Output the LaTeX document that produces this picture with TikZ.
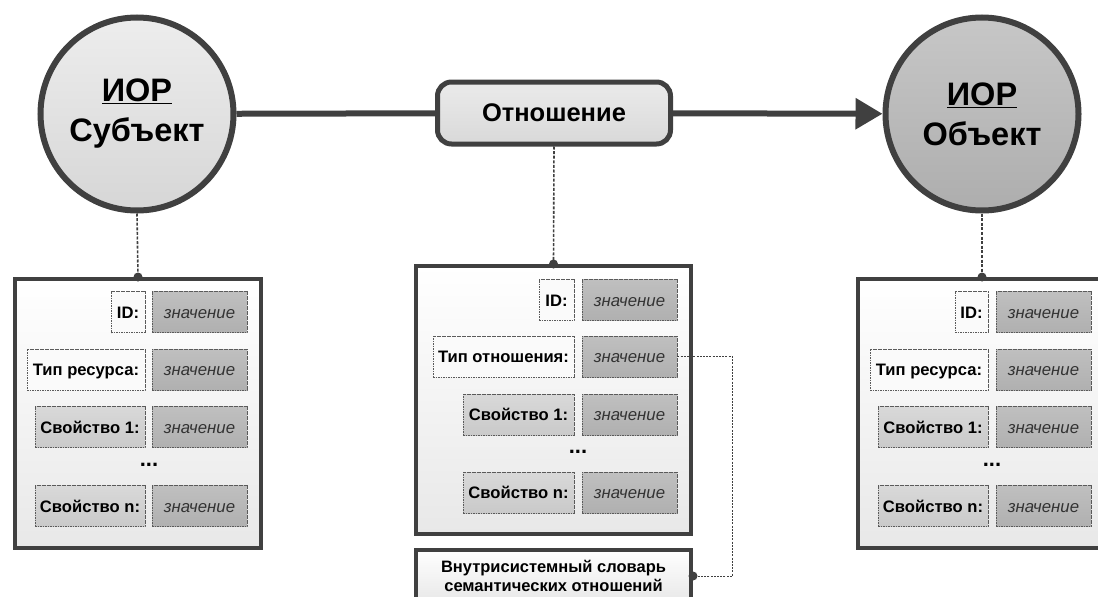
\documentclass[tikz,border=0pt]{standalone}
\usepackage{fontspec}
\setmainfont{Liberation Sans}
\usetikzlibrary{arrows.meta}
\definecolor{ink}{HTML}{404040}
\definecolor{dashc}{HTML}{5A5A5A}
\definecolor{labfill}{HTML}{FAFAFA}
\begin{document}
\begin{tikzpicture}[x=1pt,y=-1pt,
  ior/.style={circle, draw=ink, line width=6pt, minimum size=193pt, inner sep=0pt, align=center,
    font=\fontsize{32.5}{40}\selectfont\bfseries},
  bigbox/.style={rectangle, draw=ink, line width=4pt, top color=white, bottom color=black!9, inner sep=0pt},
  cell/.style={rectangle, draw=dashc, line width=0.8pt, dash pattern=on 1.6pt off 0.9pt, minimum height=41pt,
    inner sep=2pt, text height=12pt, text depth=0pt},
  lab/.style={cell, fill=labfill, font=\fontsize{16.6}{18}\selectfont\bfseries},
  prop/.style={cell, top color=black!15, bottom color=black!21, font=\fontsize{16.6}{18}\selectfont\bfseries},
  val/.style={cell, top color=black!25, bottom color=black!31, minimum width=95pt, font=\fontsize{16.8}{18}\selectfont\itshape, text=black!80},
  dots/.style={font=\fontsize{22}{22}\selectfont\bfseries, inner sep=0pt},
  conn/.style={draw=ink, line width=1.6pt, dash pattern=on 3pt off 1.6pt},
  dot/.style={circle, fill=ink, minimum size=9pt, inner sep=0pt}
]
\useasboundingbox (0,0) rectangle (1098,597);
\clip (0,0) rectangle (1098,597);

% main nodes
\node[ior, top color=black!7, bottom color=black!16] (subj) at (137,114) {\underline{ИОР}\\Субъект};
\node[ior, top color=black!22, bottom color=black!32] (obj) at (982,114) {\underline{ИОР}\\Объект};
\node[rectangle, rounded corners=14pt, draw=ink, line width=5pt, top color=black!8, bottom color=black!15,
  minimum width=233pt, minimum height=62pt, font=\fontsize{25.5}{28}\selectfont\bfseries] (rel) at (554,113) {Отношение};

\draw[ink, line width=6pt] (subj) -- (rel);
\draw[ink, line width=6pt, -{Triangle[length=27pt,width=30pt]}] (rel) -- (obj);

% boxes
\node[bigbox, minimum width=246pt, minimum height=269pt] (boxL) at (138,413.5) {};
\node[bigbox, minimum width=275pt, minimum height=268pt] (boxM) at (553.5,400) {};
\node[bigbox, minimum width=248pt, minimum height=269pt] (boxR) at (982,413.5) {};
\node[bigbox, minimum width=275pt, minimum height=52pt, align=center,
  font=\fontsize{16.5}{18.5}\selectfont\bfseries] (dict) at (553.5,576) {Внутрисистемный словарь\\семантических отношений};

% left rows
\node[lab, minimum width=34pt] (Lid) at (128,312) {ID:};
\node[val] (Lidv) at (199.5,312) {значение};
\node[lab, minimum width=118pt] (Ltype) at (86,369.5) {Тип ресурса:};
\node[val] (Ltypev) at (199.5,369.5) {значение};
\node[prop, minimum width=110pt] (Lp1) at (90,427) {Свойство 1:};
\node[val] (Lp1v) at (199.5,427) {значение};
\node[dots] (Ldots) at (149,465) {...};
\node[prop, minimum width=110pt] (Lpn) at (90,506) {Свойство n:};
\node[val] (Lpnv) at (199.5,506) {значение};

% middle rows
\node[lab, minimum width=35pt] (Mid) at (556.5,300) {ID:};
\node[val] (Midv) at (629.5,300) {значение};
\node[lab, minimum width=141pt] (Mtype) at (503.5,356.5) {Тип отношения:};
\node[val] (Mtypev) at (629.5,356.5) {значение};
\node[prop, minimum width=111pt] (Mp1) at (518.5,414.5) {Свойство 1:};
\node[val] (Mp1v) at (629.5,414.5) {значение};
\node[dots] (Mdots) at (578,452) {...};
\node[prop, minimum width=111pt] (Mpn) at (518.5,492.5) {Свойство n:};
\node[val] (Mpnv) at (629.5,492.5) {значение};

% right rows
\node[lab, minimum width=33pt] (Rid) at (971.5,312) {ID:};
\node[val] (Ridv) at (1043.5,312) {значение};
\node[lab, minimum width=118pt] (Rtype) at (929,369.5) {Тип ресурса:};
\node[val] (Rtypev) at (1043.5,369.5) {значение};
\node[prop, minimum width=110pt] (Rp1) at (933,427) {Свойство 1:};
\node[val] (Rp1v) at (1043.5,427) {значение};
\node[dots] (Rdots) at (992,465) {...};
\node[prop, minimum width=110pt] (Rpn) at (933,506) {Свойство n:};
\node[val] (Rpnv) at (1043.5,506) {значение};

% dashed connectors
\draw[conn] (subj.south) -- (boxL.north);
\draw[conn] (rel.south) -- (boxM.north);
\draw[conn] (obj.south) -- (boxR.north);
\draw[conn, line width=1pt, dash pattern=on 2pt off 1.2pt] (Mtypev.east) -- ++(55,0) |- (dict.east);
\node[dot] at (boxL.north) {};
\node[dot] at (boxM.north) {};
\node[dot] at (boxR.north) {};
\node[dot] at (dict.east) {};
\end{tikzpicture}
\end{document}
